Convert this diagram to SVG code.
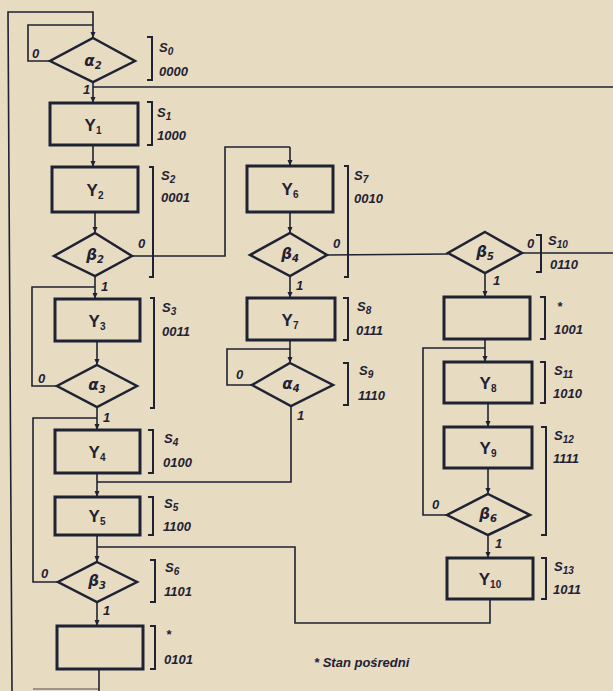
<svg xmlns="http://www.w3.org/2000/svg" width="613" height="691" viewBox="0 0 613 691">
<defs>
<marker id="ar" viewBox="0 0 6 6" refX="5" refY="3" markerWidth="6" markerHeight="6" orient="auto" markerUnits="userSpaceOnUse">
<path d="M0,0.5 L6,3 L0,5.5 Z" fill="#1f2233"/>
</marker>
</defs>
<style>
.bg{fill:#e7dbc2}
.box{fill:none;stroke:#1f2233;stroke-width:3}
.dia{fill:none;stroke:#1f2233;stroke-width:2.5;stroke-linejoin:miter}
.ln{fill:none;stroke:#1f2233;stroke-width:1.6}
.arr{fill:none;stroke:#1f2233;stroke-width:1.6;marker-end:url(#ar)}
.br{fill:none;stroke:#1f2233;stroke-width:2}
.y{font-family:"Liberation Sans",Arial,sans-serif;font-weight:bold;font-size:17px;fill:#1f2233;text-anchor:middle}
.g{font-family:"DejaVu Sans","Liberation Sans",sans-serif;font-style:italic;font-weight:bold;font-size:15px;fill:#1f2233;text-anchor:middle}
.s{font-family:"Liberation Sans",Arial,sans-serif;font-style:italic;font-weight:bold;font-size:13px;fill:#1f2233}
.c{font-family:"Liberation Sans",Arial,sans-serif;font-style:italic;font-weight:bold;font-size:13px;fill:#1f2233}
.sub{font-size:10px}
</style>
<rect class="bg" x="0" y="0" width="613" height="691"/>

<g id="connectors">
<polyline class="ln" points="12,691 8,12 93,12 93,25"/>
<polyline class="arr" points="93,25 93,37"/>
<polyline class="ln" points="50,61 28,61 28,25 93,25"/>
<line class="arr" x1="93" y1="82" x2="93" y2="102"/>
<line class="ln" x1="93" y1="87" x2="613" y2="87"/>
<line class="arr" x1="93" y1="145" x2="93" y2="166"/>
<line class="arr" x1="95" y1="212" x2="95" y2="232"/>
<polyline class="ln" points="132,256 225,256 225,147 290,147"/>
<line class="arr" x1="290" y1="147" x2="290" y2="165"/>
<line class="arr" x1="95" y1="276" x2="95" y2="298"/>
<polyline class="ln" points="57,386 32,386 32,287 95,287"/>
<line class="arr" x1="97" y1="341" x2="97" y2="364"/>
<line class="arr" x1="97" y1="407" x2="97" y2="429"/>
<polyline class="ln" points="58,582 33,582 33,418 97,418"/>
<line class="arr" x1="97" y1="473" x2="97" y2="496"/>
<polyline class="ln" points="291,406 291,482 97,482"/>
<line class="arr" x1="97" y1="535" x2="97" y2="561"/>
<polyline class="ln" points="490,599 490,623 295,623 295,547 97,547"/>
<line class="arr" x1="97" y1="602" x2="97" y2="625"/>
<line class="ln" x1="99" y1="669" x2="99" y2="691"/>
<line class="ln" x1="33" y1="689" x2="99" y2="689" stroke-opacity="0.5"/>
<line class="arr" x1="290" y1="212" x2="290" y2="232"/>
<line class="ln" x1="327" y1="255" x2="448" y2="254"/>
<line class="ln" x1="522" y1="253" x2="613" y2="253"/>
<line class="arr" x1="290" y1="276" x2="290" y2="297"/>
<line class="arr" x1="290" y1="340" x2="290" y2="362"/>
<polyline class="ln" points="252,385 227,385 227,349 290,349"/>
<line class="arr" x1="485" y1="272" x2="485" y2="296"/>
<line class="arr" x1="485" y1="339" x2="485" y2="361"/>
<polyline class="ln" points="447,515 423,515 423,348 485,348"/>
<line class="arr" x1="488" y1="403" x2="488" y2="426"/>
<line class="arr" x1="488" y1="468" x2="488" y2="493"/>
<line class="arr" x1="488" y1="535" x2="488" y2="557"/>
</g>

<g id="edge-labels">
<text class="c" x="32" y="58">0</text><text class="c" x="83" y="94">1</text>
<text class="c" x="138" y="248">0</text><text class="c" x="101" y="291">1</text>
<text class="c" x="38" y="383">0</text><text class="c" x="103" y="422">1</text>
<text class="c" x="41" y="578">0</text><text class="c" x="103" y="615">1</text>
<text class="c" x="333" y="248">0</text><text class="c" x="296" y="290">1</text>
<text class="c" x="236" y="379">0</text><text class="c" x="297" y="420">1</text>
<text class="c" x="527" y="248">0</text><text class="c" x="493" y="285">1</text>
<text class="c" x="432" y="509">0</text><text class="c" x="495" y="548">1</text>
</g>

<g id="a2"><polygon class="dia" points="93,38 135,61 93,82 50,61"/><text class="g" x="93" y="66">α<tspan class="sub" dy="3">2</tspan></text></g>
<g id="Y1"><rect class="box" x="50" y="103" width="88" height="42"/><text class="y" x="93" y="131">Y<tspan class="sub" dy="3">1</tspan></text></g>
<g id="Y2"><rect class="box" x="52" y="167" width="86" height="45"/><text class="y" x="95" y="196">Y<tspan class="sub" dy="3">2</tspan></text></g>
<g id="b2"><polygon class="dia" points="95,233 132,256 95,276 54,256"/><text class="g" x="95" y="260">β<tspan class="sub" dy="3">2</tspan></text></g>
<g id="Y3"><rect class="box" x="55" y="299" width="85" height="42"/><text class="y" x="97" y="327">Y<tspan class="sub" dy="3">3</tspan></text></g>
<g id="a3"><polygon class="dia" points="97,365 137,386 97,407 57,386"/><text class="g" x="97" y="390">α<tspan class="sub" dy="3">3</tspan></text></g>
<g id="Y4"><rect class="box" x="55" y="430" width="85" height="43"/><text class="y" x="97" y="458">Y<tspan class="sub" dy="3">4</tspan></text></g>
<g id="Y5"><rect class="box" x="55" y="497" width="85" height="38"/><text class="y" x="97" y="522">Y<tspan class="sub" dy="3">5</tspan></text></g>
<g id="b3"><polygon class="dia" points="97,562 137,582 97,602 58,582"/><text class="g" x="97" y="586">β<tspan class="sub" dy="3">3</tspan></text></g>
<g id="I1"><rect class="box" x="57" y="626" width="86" height="43"/></g>
<g id="Y6"><rect class="box" x="247" y="166" width="86" height="46"/><text class="y" x="290" y="195">Y<tspan class="sub" dy="3">6</tspan></text></g>
<g id="b4"><polygon class="dia" points="290,233 327,255 290,276 250,255"/><text class="g" x="290" y="259">β<tspan class="sub" dy="3">4</tspan></text></g>
<g id="Y7"><rect class="box" x="247" y="298" width="88" height="42"/><text class="y" x="290" y="326">Y<tspan class="sub" dy="3">7</tspan></text></g>
<g id="a4"><polygon class="dia" points="290,363 333,385 291,406 252,385"/><text class="g" x="291" y="389">α<tspan class="sub" dy="3">4</tspan></text></g>
<g id="b5"><polygon class="dia" points="485,232 522,253 485,273 448,253"/><text class="g" x="485" y="257">β<tspan class="sub" dy="3">5</tspan></text></g>
<g id="I2"><rect class="box" x="444" y="297" width="86" height="42"/></g>
<g id="Y8"><rect class="box" x="444" y="362" width="88" height="41"/><text class="y" x="488" y="389">Y<tspan class="sub" dy="3">8</tspan></text></g>
<g id="Y9"><rect class="box" x="444" y="427" width="88" height="41"/><text class="y" x="488" y="454">Y<tspan class="sub" dy="3">9</tspan></text></g>
<g id="b6"><polygon class="dia" points="488,494 530,515 488,535 447,515"/><text class="g" x="488" y="519">β<tspan class="sub" dy="3">6</tspan></text></g>
<g id="Y10"><rect class="box" x="447" y="558" width="86" height="41"/><text class="y" x="490" y="585">Y<tspan class="sub" dy="3">10</tspan></text></g>

<g id="states">
<path class="br" d="M147,37 H152 V80 H147"/><text class="s" x="159" y="52">S<tspan class="sub" dy="3">0</tspan></text><text class="s" x="159" y="76">0000</text>
<path class="br" d="M147,102 H152 V145 H147"/><text class="s" x="157" y="117">S<tspan class="sub" dy="3">1</tspan></text><text class="s" x="157" y="140">1000</text>
<path class="br" d="M149,167 H153 V277 H149"/><text class="s" x="161" y="180">S<tspan class="sub" dy="3">2</tspan></text><text class="s" x="161" y="202">0001</text>
<path class="br" d="M150,298 H154 V408 H150"/><text class="s" x="162" y="312">S<tspan class="sub" dy="3">3</tspan></text><text class="s" x="162" y="336">0011</text>
<path class="br" d="M148,430 H153 V473 H148"/><text class="s" x="164" y="443">S<tspan class="sub" dy="3">4</tspan></text><text class="s" x="163" y="467">0100</text>
<path class="br" d="M148,497 H153 V535 H148"/><text class="s" x="164" y="508">S<tspan class="sub" dy="3">5</tspan></text><text class="s" x="163" y="531">1100</text>
<path class="br" d="M150,560 H155 V602 H150"/><text class="s" x="165" y="572">S<tspan class="sub" dy="3">6</tspan></text><text class="s" x="164" y="596">1101</text>
<path class="br" d="M150,626 H155 V669 H150"/><text class="s" x="166" y="639">*</text><text class="s" x="164" y="664">0101</text>
<path class="br" d="M344,166 H348 V277 H344"/><text class="s" x="354" y="180">S<tspan class="sub" dy="3">7</tspan></text><text class="s" x="354" y="203">0010</text>
<path class="br" d="M343,298 H348 V340 H343"/><text class="s" x="357" y="311">S<tspan class="sub" dy="3">8</tspan></text><text class="s" x="356" y="335">0111</text>
<path class="br" d="M343,363 H348 V405 H343"/><text class="s" x="359" y="375">S<tspan class="sub" dy="3">9</tspan></text><text class="s" x="358" y="400">1110</text>
<path class="br" d="M536,235 H541 V272 H536"/><text class="s" x="548" y="245">S<tspan class="sub" dy="3">10</tspan></text><text class="s" x="550" y="269">0110</text>
<path class="br" d="M540,297 H545 V339 H540"/><text class="s" x="557" y="311">*</text><text class="s" x="554" y="334">1001</text>
<path class="br" d="M540,362 H545 V403 H540"/><text class="s" x="554" y="375">S<tspan class="sub" dy="3">11</tspan></text><text class="s" x="553" y="398">1010</text>
<path class="br" d="M541,427 H546 V535 H541"/><text class="s" x="554" y="440">S<tspan class="sub" dy="3">12</tspan></text><text class="s" x="553" y="463">1111</text>
<path class="br" d="M541,558 H546 V599 H541"/><text class="s" x="554" y="571">S<tspan class="sub" dy="3">13</tspan></text><text class="s" x="553" y="594">1011</text>
</g>

<g id="legend"><text class="s" x="314" y="667">* Stan pośredni</text></g>
</svg>
